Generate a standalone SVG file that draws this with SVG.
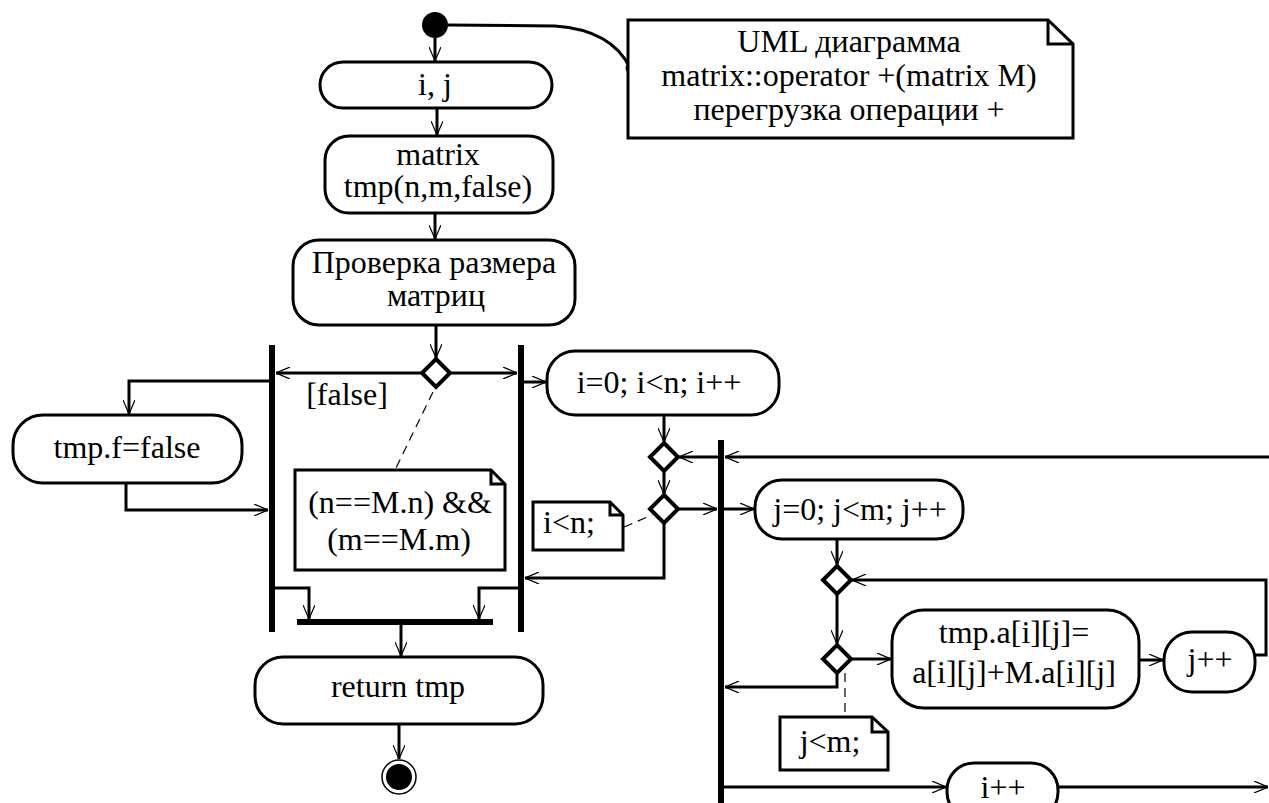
<svg xmlns="http://www.w3.org/2000/svg" width="1269" height="803" viewBox="0 0 1269 803">
<style>
.n{fill:#fff;stroke:#000;stroke-width:3}
.t{font-family:"Liberation Serif","Times New Roman",serif;font-size:32px;fill:#000;text-anchor:middle}
.c{fill:none;stroke:#000;stroke-width:3}
.a{marker-end:url(#ah)}
.d{fill:none;stroke:#000;stroke-width:1.2;stroke-dasharray:9 6}
.dm{fill:#fff;stroke:#000;stroke-width:4}
.fold{fill:none;stroke:#000;stroke-width:3}
</style>
<defs>
<marker id="ah" viewBox="0 0 14 12" refX="14" refY="6" markerWidth="14" markerHeight="12" markerUnits="userSpaceOnUse" orient="auto">
<path d="M0,0 L14,6 L0,12" fill="none" stroke="#000" stroke-width="1.2"/>
</marker>
</defs>
<rect width="1269" height="803" fill="#fff"/>

<g id="connectors">
<path class="c" d="M448,25 L555,26 Q612,30 630,68"/>
<circle cx="630" cy="68" r="4.5" fill="#000"/>
<path class="c a" d="M435,38 V61"/>
<path class="c a" d="M437,108 V135"/>
<path class="c a" d="M435,213 V239"/>
<path class="c a" d="M436,325 V358"/>
<path class="c a" d="M422,373 H276"/>
<path class="c a" d="M450,373 H517"/>
<path class="c a" d="M269,381 H129 V414"/>
<path class="c a" d="M126,483 V510 H268"/>
<path class="c a" d="M524,382 H546"/>
<path class="c a" d="M664,415 V442"/>
<path class="c a" d="M664,471 V494"/>
<path class="c a" d="M678,509 H717"/>
<path class="c a" d="M724,509 H754"/>
<path class="c a" d="M664,523 V578 H525"/>
<path class="c a" d="M1269,457 H725"/>
<path class="c a" d="M718,457 H679"/>
<path class="c a" d="M837,539 V565"/>
<path class="c a" d="M837,594 V644"/>
<path class="c a" d="M852,659 H891"/>
<path class="c a" d="M1139,660 H1163"/>
<path class="c a" d="M1255,655 H1266 V580 H852"/>
<path class="c a" d="M837,673 V687 H725"/>
<path class="c a" d="M724,787 H946"/>
<path class="c a" d="M1058,787 H1268"/>
<path class="c a" d="M275,588 H309 V619"/>
<path class="c a" d="M518,588 H479 V619"/>
<path class="c a" d="M401,625 V656"/>
<path class="c a" d="M399,724 V759"/>
<path class="d" d="M433,392 L395,470"/>
<path class="d" d="M624,527 L652,515"/>
<path class="d" d="M845,673 V717"/>
</g>

<g id="bars">
<rect x="269" y="345" width="6" height="287" fill="#000"/>
<rect x="518" y="345" width="6" height="287" fill="#000"/>
<rect x="718" y="440" width="6" height="363" fill="#000"/>
<rect x="297" y="619" width="196" height="6" fill="#000"/>
</g>

<g id="start"><circle cx="435" cy="25" r="13" fill="#000"/></g>

<g id="note-uml">
<path class="n" d="M628,20 H1048 L1073,44 V138 H628 Z"/>
<path class="fold" d="M1048,20 V44 H1073"/>
<text class="t" x="849" y="52">UML диаграмма</text>
<text class="t" x="849" y="86">matrix::operator +(matrix M)</text>
<text class="t" x="849" y="120">перегрузка операции +</text>
</g>

<g id="node-ij">
<rect class="n" x="320" y="62" width="232" height="46" rx="23"/>
<text class="t" x="435" y="95">i, j</text>
</g>

<g id="node-matrix">
<rect class="n" x="325" y="136" width="228" height="77" rx="24"/>
<text class="t" x="438" y="165">matrix</text>
<text class="t" x="438" y="197">tmp(n,m,false)</text>
</g>

<g id="node-check">
<rect class="n" x="293" y="240" width="282" height="85" rx="26"/>
<text class="t" x="434" y="273">Проверка размера</text>
<text class="t" x="436" y="306">матриц</text>
</g>

<g id="decision-size"><polygon class="dm" points="436,359 450,373 436,387 422,373"/></g>

<g id="label-false"><text class="t" x="347" y="405">[false]</text></g>

<g id="node-tmpf">
<rect class="n" x="13" y="415" width="229" height="68" rx="30"/>
<text class="t" x="127" y="458">tmp.f=false</text>
</g>

<g id="note-cond">
<path class="n" d="M295,470 H491 L505,484 V570 H295 Z"/>
<path class="fold" d="M491,470 V484 H505"/>
<text class="t" x="400" y="513">(n==M.n) &amp;&amp;</text>
<text class="t" x="399" y="550">(m==M.m)</text>
</g>

<g id="node-iloop">
<rect class="n" x="547" y="351" width="232" height="64" rx="28"/>
<text class="t" x="659" y="393">i=0; i&lt;n; i++</text>
</g>

<g id="merge-i"><polygon class="dm" points="664,443 678,457 664,471 650,457"/></g>
<g id="decision-i"><polygon class="dm" points="664,495 678,509 664,523 650,509"/></g>

<g id="note-in">
<path class="n" d="M533,502 H610 L623,515 V550 H533 Z"/>
<path class="fold" d="M610,502 V515 H623"/>
<text class="t" x="569" y="533">i&lt;n;</text>
</g>

<g id="node-jloop">
<rect class="n" x="755" y="480" width="208" height="59" rx="27"/>
<text class="t" x="860" y="520">j=0; j&lt;m; j++</text>
</g>

<g id="merge-j"><polygon class="dm" points="837,566 851,580 837,594 823,580"/></g>
<g id="decision-j"><polygon class="dm" points="837,645 851,659 837,673 823,659"/></g>

<g id="node-sum">
<rect class="n" x="892" y="610" width="247" height="98" rx="32"/>
<text class="t" x="1014" y="643">tmp.a[i][j]=</text>
<text class="t" x="1014" y="683">a[i][j]+M.a[i][j]</text>
</g>

<g id="node-jinc">
<rect class="n" x="1164" y="632" width="91" height="60" rx="28"/>
<text class="t" x="1210" y="670">j++</text>
</g>

<g id="note-jm">
<path class="n" d="M780,717 H872 L888,732 V770 H780 Z"/>
<path class="fold" d="M872,717 V732 H888"/>
<text class="t" x="830" y="752">j&lt;m;</text>
</g>

<g id="node-iinc">
<rect class="n" x="947" y="763" width="111" height="56" rx="27"/>
<text class="t" x="1003" y="798">i++</text>
</g>

<g id="node-return">
<rect class="n" x="255" y="657" width="288" height="67" rx="28"/>
<text class="t" x="398" y="697">return tmp</text>
</g>

<g id="end">
<circle cx="399" cy="777" r="17" fill="#fff" stroke="#000" stroke-width="1.5"/>
<circle cx="399" cy="777" r="13" fill="#000"/>
</g>
</svg>
